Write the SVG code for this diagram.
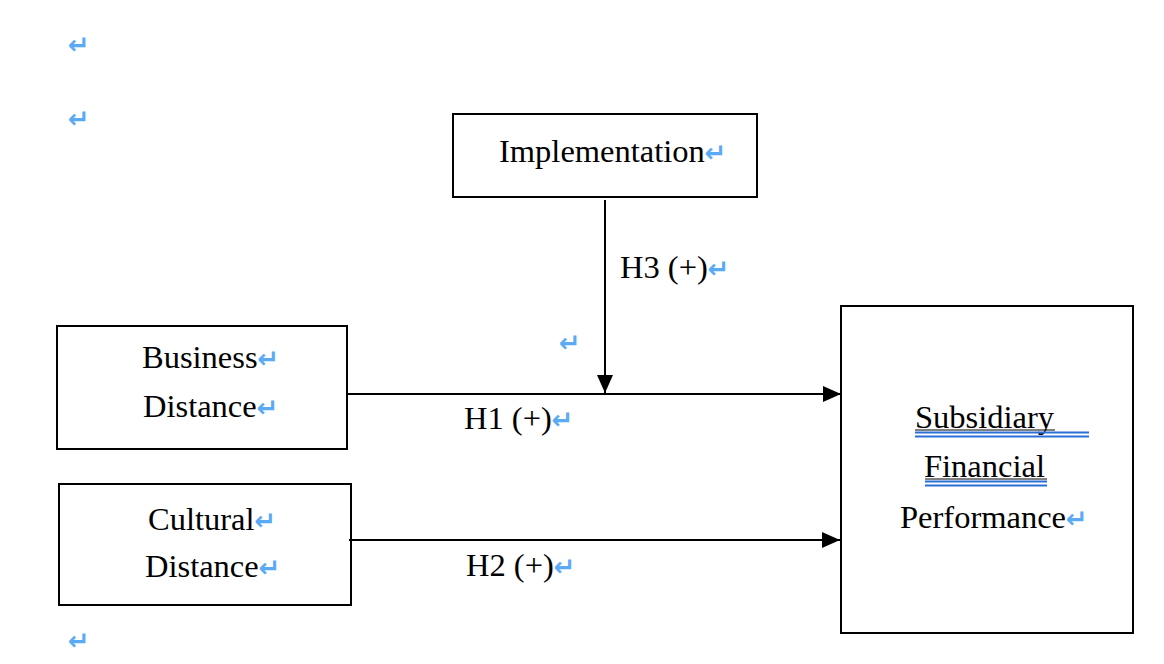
<svg xmlns="http://www.w3.org/2000/svg" width="1164" height="664" viewBox="0 0 1164 664">
<style>
.box{fill:#fff;stroke:#000;stroke-width:2}
.t{font-family:"Liberation Serif","Times New Roman",serif;font-size:32.5px;fill:#000}
.pm{font-family:"DejaVu Sans",sans-serif;font-size:26px;font-weight:bold;fill:#5aaaf5}
.ln{stroke:#000;stroke-width:2;fill:none}
.ul{stroke:#2a6fd6;stroke-width:2}
</style>
<defs>
<marker id="ah" markerWidth="18" markerHeight="16" refX="18" refY="8" orient="auto" markerUnits="userSpaceOnUse">
<path d="M0,0 L18,8 L0,16 Z" fill="#000"/>
</marker>
</defs>
<rect width="1164" height="664" fill="#fff"/>
<g id="marks">
<text class="pm" x="68" y="54">↵</text>
<text class="pm" x="68" y="128">↵</text>
<text class="pm" x="559" y="352">↵</text>
<text class="pm" x="983" y="350">↵</text>
<text class="pm" x="68" y="650">↵</text>
</g>
<g id="implementation">
<rect class="box" x="453" y="114" width="304" height="83"/>
<text class="t" x="499" y="162">Implementation<tspan class="pm">↵</tspan></text>
</g>
<g id="business">
<rect class="box" x="57" y="326" width="290" height="123"/>
<text class="t" x="142" y="368">Business<tspan class="pm">↵</tspan></text>
<text class="t" x="143" y="417">Distance<tspan class="pm">↵</tspan></text>
</g>
<g id="cultural">
<rect class="box" x="59" y="484" width="292" height="121"/>
<text class="t" x="148" y="530">Cultural<tspan class="pm">↵</tspan></text>
<text class="t" x="145" y="577">Distance<tspan class="pm">↵</tspan></text>
</g>
<g id="performance">
<rect class="box" x="841" y="306" width="292" height="327"/>
<text class="t" x="915" y="428">Subsidiary</text>
<line x1="915" y1="430" x2="1055" y2="430" stroke="#000" stroke-width="1"/>
<line class="ul" x1="915" y1="432.5" x2="1089" y2="432.5"/>
<line class="ul" x1="915" y1="436.5" x2="1089" y2="436.5"/>
<text class="t" x="924" y="477">Financial</text>
<line x1="925" y1="479" x2="1047" y2="479" stroke="#000" stroke-width="1"/>
<line class="ul" x1="925" y1="481.5" x2="1047" y2="481.5"/>
<line class="ul" x1="925" y1="485.5" x2="1047" y2="485.5"/>
<text class="t" x="900" y="528">Performance<tspan class="pm">↵</tspan></text>
</g>
<g id="connectors">
<line class="ln" x1="605" y1="200" x2="605" y2="393" marker-end="url(#ah)"/>
<line class="ln" x1="347" y1="394" x2="841" y2="394" marker-end="url(#ah)"/>
<line class="ln" x1="349" y1="540" x2="840" y2="540" marker-end="url(#ah)"/>
<text class="t" x="620" y="278">H3 (+)<tspan class="pm">↵</tspan></text>
<text class="t" x="464" y="429">H1 (+)<tspan class="pm">↵</tspan></text>
<text class="t" x="466" y="576">H2 (+)<tspan class="pm">↵</tspan></text>
</g>
</svg>
